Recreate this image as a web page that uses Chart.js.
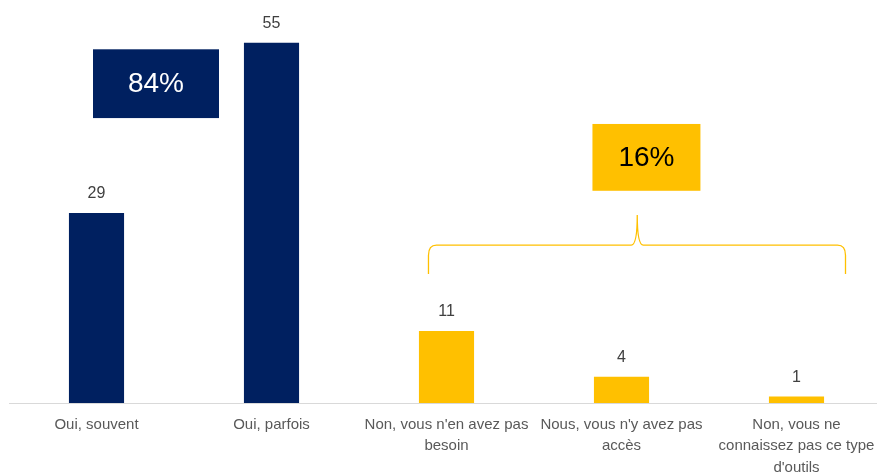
<!DOCTYPE html>
<html>
<head>
<meta charset="utf-8">
<script src="https://cdn.jsdelivr.net/npm/chart.js@4.4.1/dist/chart.umd.min.js"></script>
<style>
  html, body { margin: 0; padding: 0; background: #fff; overflow: hidden; }
  #wrap { width: 884px; height: 475px; }
</style>
</head>
<body>
<div id="wrap"><canvas id="chart" width="884" height="475"></canvas></div>
<script>
// données
const categories = [
    ['Oui, souvent'],
    ['Oui, parfois'],
    ["Non, vous n'en avez pas", 'besoin'],
    ["Nous, vous n'y avez pas", 'accès'],
    ['Non, vous ne', 'connaissez pas ce type', "d'outils"]
];
const values = [29, 55, 11, 4, 1];
const groupLabels = ['84%', '16%'];

const NAVY = '#002060';
const GOLD = '#FFC000';
const FONT = "'Liberation Sans Narrow', 'Liberation Sans', sans-serif";
const barColors = [NAVY, NAVY, GOLD, GOLD, GOLD];

// valeurs au-dessus des barres
const valueLabels = {
    id: 'valueLabels',
    afterDatasetsDraw(chart) {
        const ctx = chart.ctx;
        const meta = chart.getDatasetMeta(0);
        ctx.save();
        ctx.font = '16px ' + FONT;
        ctx.fillStyle = '#404040';
        ctx.textAlign = 'center';
        ctx.textBaseline = 'bottom';
        meta.data.forEach((bar, i) => {
            ctx.fillText(values[i], bar.x, bar.y - 11);
        });
        ctx.restore();
    }
};

// encadrés 84% / 16% et accolade
const groups = {
    id: 'groups',
    afterDraw(chart) {
        const ctx = chart.ctx;
        const x = chart.scales.x, y = chart.scales.y;
        const px = v => x.getPixelForValue(v);
        const py = v => y.getPixelForValue(v);

        function box(x0, x1, y0, y1, fill, color, text) {
            const l = px(x0), r = px(x1), t = py(y0), b = py(y1);
            ctx.fillStyle = fill;
            ctx.fillRect(l, t, r - l, b - t);
            ctx.font = '28px ' + FONT;
            ctx.fillStyle = color;
            ctx.textAlign = 'center';
            ctx.textBaseline = 'middle';
            ctx.fillText(text, (l + r) / 2, (t + b) / 2 + 1);
        }

        ctx.save();
        box(-0.02, 0.70, 54.0, 43.5, NAVY, '#ffffff', groupLabels[0]);
        box(2.834, 3.451, 42.6, 32.4, GOLD, '#000000', groupLabels[1]);

        // accolade
        const l = px(1.897), r = px(4.28), m = px(3.09);
        const bot = py(19.7), mid = py(24.1), tip = py(28.7);
        ctx.strokeStyle = GOLD;
        ctx.lineWidth = 1.3;
        ctx.beginPath();
        ctx.moveTo(l, bot);
        ctx.lineTo(l, mid + 10);
        ctx.quadraticCurveTo(l, mid, l + 8, mid);
        ctx.lineTo(m - 6, mid);
        ctx.quadraticCurveTo(m, mid, m, tip);
        ctx.quadraticCurveTo(m, mid, m + 6, mid);
        ctx.lineTo(r - 8, mid);
        ctx.quadraticCurveTo(r, mid, r, mid + 10);
        ctx.lineTo(r, bot);
        ctx.stroke();
        ctx.restore();
    }
};

new Chart(document.getElementById('chart').getContext('2d'), {
    type: 'bar',
    data: {
        labels: categories,
        datasets: [{
            data: values,
            backgroundColor: barColors,
            barPercentage: 0.63,
            categoryPercentage: 0.5
        }]
    },
    options: {
        responsive: false,
        animation: false,
        layout: { padding: { left: 9, right: 0, top: 10, bottom: 0 } },
        plugins: {
            legend: { display: false },
            tooltip: { enabled: false }
        },
        scales: {
            x: {
                grid: { display: false },
                border: { display: true, color: '#d9d9d9', width: 1 },
                ticks: {
                    color: '#595959',
                    font: { family: FONT, size: 15, lineHeight: 1.43 },
                    padding: 3,
                    maxRotation: 0,
                    autoSkip: false
                },
                afterFit(scale) { scale.height = 72; }
            },
            y: {
                display: false,
                min: 0,
                max: 60
            }
        }
    },
    plugins: [valueLabels, groups]
});
</script>
</body>
</html>
